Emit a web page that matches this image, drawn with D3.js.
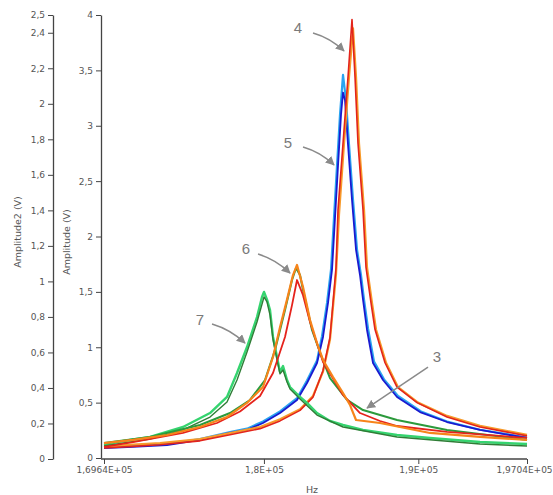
<!DOCTYPE html>
<html>
<head>
<meta charset="utf-8">
<script src="https://cdn.jsdelivr.net/npm/d3@7"></script>
<style>
  body { margin: 0; background: #fff; }
  text { font-family: "DejaVu Sans", sans-serif; }
</style>
</head>
<body>
<div id="chart"></div>
<script>
// ---- data: [Hz, V] ----
const c5Blue = [[169640,0.09],[171519,0.10],[173721,0.117],[175859,0.163],[177802,0.226],[178904,0.253],[179940,0.316],[181041,0.406],[182143,0.524],[182790,0.677],[183438,0.858],[183827,1.093],[184151,1.40],[184410,1.70],[184604,2.17],[184798,2.64],[184993,3.10],[185122,3.30],[185252,3.23],[185446,2.83],[185705,2.33],[185965,1.88],[186224,1.65],[186418,1.43],[186677,1.156],[187066,0.858],[187714,0.704],[188621,0.551],[190110,0.415],[191860,0.325],[193997,0.253],[197042,0.181]];
const c5Cyan = [[169640,0.10],[171519,0.11],[173721,0.125],[175859,0.17],[177802,0.235],[178904,0.265],[179940,0.33],[181041,0.42],[182143,0.54],[182790,0.70],[183438,0.88],[183762,1.10],[184086,1.40],[184345,1.70],[184539,2.17],[184734,2.64],[184928,3.10],[185122,3.46],[185317,3.23],[185511,2.83],[185770,2.33],[186029,1.88],[186289,1.65],[186483,1.43],[186742,1.17],[187131,0.87],[187779,0.71],[188686,0.56],[190175,0.42],[191860,0.33],[193997,0.255],[197042,0.185]];
const c4Orange = [[169640,0.10],[171519,0.12],[173268,0.135],[175859,0.17],[177802,0.225],[179746,0.28],[181041,0.35],[182337,0.44],[183179,0.56],[183827,0.78],[184280,1.07],[184669,1.66],[184863,2.20],[185187,2.84],[185511,3.44],[185770,3.88],[185965,3.44],[186159,2.84],[186483,2.24],[186677,1.72],[187001,1.40],[187260,1.16],[187908,0.86],[188686,0.64],[189980,0.50],[191860,0.38],[193997,0.29],[197042,0.21]];
const c4Red = [[169640,0.09],[171519,0.105],[173268,0.12],[175859,0.155],[177802,0.21],[179746,0.265],[181041,0.335],[182337,0.43],[183179,0.55],[183827,0.79],[184280,1.09],[184669,1.72],[184798,2.24],[185122,2.84],[185446,3.44],[185705,3.96],[185900,3.44],[186094,2.84],[186418,2.24],[186612,1.72],[186936,1.40],[187196,1.16],[187843,0.86],[188621,0.64],[189916,0.50],[191860,0.37],[193997,0.28],[197042,0.20]];
const c6Red = [[169640,0.10],[171519,0.144],[174758,0.226],[176960,0.316],[178450,0.42],[179746,0.56],[180588,0.767],[181365,1.093],[181819,1.38],[182143,1.607],[182531,1.47],[182985,1.228],[183827,0.867],[185122,0.569],[186224,0.406],[187520,0.334],[188621,0.289],[191860,0.235],[197042,0.181]];
const c3Green = [[169640,0.135],[172620,0.19],[175859,0.298],[177802,0.406],[179098,0.524],[180070,0.704],[180718,0.975],[181365,1.336],[181819,1.607],[182078,1.716],[182337,1.652],[182531,1.517],[183114,1.156],[183762,0.903],[184280,0.722],[185382,0.524],[186418,0.433],[188621,0.343],[191860,0.253],[197042,0.163]];
const c6Orange = [[169640,0.135],[171519,0.163],[173721,0.208],[175859,0.28],[177608,0.37],[178904,0.497],[179940,0.641],[180588,0.912],[181041,1.18],[181495,1.43],[181883,1.652],[182143,1.743],[182531,1.544],[182985,1.246],[183438,1.038],[183827,0.885],[184475,0.731],[185122,0.587],[185576,0.479],[185705,0.433],[185965,0.343],[187520,0.316],[190758,0.226],[193997,0.19],[197042,0.163]];
const c7Dark = [[169640,0.108],[172620,0.172],[174758,0.253],[176507,0.37],[177608,0.506],[178256,0.704],[178904,0.957],[179551,1.228],[180005,1.454],[180199,1.41],[180394,1.29],[180588,1.07],[180847,0.885],[181041,0.76],[181236,0.795],[181495,0.686],[181689,0.623],[182337,0.533],[183438,0.388],[185122,0.28],[188621,0.19],[193997,0.126],[197042,0.108]];
const c7Light = [[169640,0.117],[170482,0.144],[172620,0.19],[174758,0.28],[176507,0.406],[177608,0.551],[178256,0.767],[178904,1.002],[179551,1.273],[179875,1.454],[180005,1.499],[180199,1.43],[180394,1.336],[180588,1.093],[180847,0.912],[181041,0.777],[181236,0.83],[181495,0.704],[181689,0.641],[182337,0.551],[182790,0.497],[183438,0.406],[184280,0.334],[185122,0.298],[186418,0.253],[188621,0.208],[190758,0.181],[193997,0.144],[197042,0.126]];

const xTicks = [169640, 180000, 190000, 197040];
const xTickLabels = ["1,6964E+05", "1,8E+05", "1,9E+05", "1,9704E+05"];
const ampTicks = [0, 0.5, 1, 1.5, 2, 2.5, 3, 3.5, 4];
const amp2Ticks = [0, 0.2, 0.4, 0.6, 0.8, 1, 1.2, 1.4, 1.6, 1.8, 2, 2.2, 2.4, 2.5];

// annotations: label, arrow tip (Hz, V)
const annoText = ["4", "5", "6", "7", "3"];
const annoHz = [185187, 184539, 181689, 178774, 186677];
const annoV = [3.675, 2.646, 1.670, 1.038, 0.451];

// ---- layout ----
const width = 553, height = 495;
const axisL = 53, axisR = 101, baseY = 459;

const svg = d3.select('#chart').append('svg')
  .attr('width', width)
  .attr('height', height);

const x = d3.scaleLinear().domain([169640, 197040]).range([104, 527]);
const y = d3.scaleLinear().domain([0, 4]).range([458, 15]);
const y2 = d3.scaleLinear().domain([0, 2.5]).range([baseY, 15]);

const loc = d3.formatLocale({decimal: ",", thousands: " ", grouping: [3], currency: ["", ""]});
const fmt = loc.format("~g");

function styleAxis(g) {
  g.selectAll('.domain').attr('stroke', '#444').attr('stroke-width', 1.3);
  g.selectAll('.tick line').attr('stroke', '#444');
  g.selectAll('.tick text').attr('fill', '#555').style('font-size', '9px');
}

// left axis (Amplitude2)
svg.append('g')
  .attr('transform', `translate(${axisL},0)`)
  .call(d3.axisLeft(y2).tickValues(amp2Ticks).tickFormat(fmt).tickSize(5).tickSizeOuter(0))
  .call(styleAxis);

// right axis (Amplitude)
svg.append('g')
  .attr('transform', `translate(${axisR},0)`)
  .call(d3.axisLeft(y).tickValues(ampTicks).tickFormat(fmt).tickSize(5).tickSizeOuter(0))
  .call(styleAxis);

// x axis
const xg = svg.append('g')
  .attr('transform', `translate(0,${baseY})`)
  .call(d3.axisBottom(x).tickValues(xTicks).tickFormat((d, i) => xTickLabels[i]).tickSize(5).tickSizeOuter(0))
  .call(styleAxis);
xg.select('.domain').attr('d', `M${axisR},0H${x.range()[1]}`);
// keep the last label inside the frame
xg.selectAll('.tick text').filter((d, i) => i === xTicks.length - 1).attr('dx', -3);

// axis titles
svg.append('text')
  .attr('transform', `translate(21,232) rotate(-90)`)
  .attr('text-anchor', 'middle')
  .attr('fill', '#555')
  .style('font-size', '9.5px')
  .text('Amplitude2 (V)');
svg.append('text')
  .attr('transform', `translate(70,242) rotate(-90)`)
  .attr('text-anchor', 'middle')
  .attr('fill', '#555')
  .style('font-size', '9.5px')
  .text('Amplitude (V)');
svg.append('text')
  .attr('x', 312).attr('y', 493)
  .attr('text-anchor', 'middle')
  .attr('fill', '#555')
  .style('font-size', '9.5px')
  .text('Hz');

// traces
const line = d3.line().x(d => x(d[0])).y(d => y(d[1]));
const traces = [
  {data: c5Cyan, color: '#2aa4f0', w: 2.2},
  {data: c5Blue, color: '#1a1ad0', w: 1.8},
  {data: c4Orange, color: '#f79a2a', w: 2.2},
  {data: c4Red, color: '#e3241b', w: 1.6},
  {data: c7Light, color: '#35d46f', w: 2.4},
  {data: c7Dark, color: '#2f7d36', w: 1.4},
  {data: c3Green, color: '#2c9a3c', w: 2},
  {data: c6Red, color: '#e5231c', w: 1.8},
  {data: c6Orange, color: '#f7841a', w: 2.2}
];
svg.append('g').selectAll('path')
  .data(traces)
  .join('path')
  .attr('d', d => line(d.data))
  .attr('fill', 'none')
  .attr('stroke', d => d.color)
  .attr('stroke-width', d => d.w)
  .attr('stroke-linejoin', 'round');

// annotation arrows
svg.append('defs').append('marker')
  .attr('id', 'arr')
  .attr('viewBox', '0 0 10 10')
  .attr('refX', 9).attr('refY', 5)
  .attr('markerWidth', 6).attr('markerHeight', 6)
  .attr('orient', 'auto')
  .append('path')
  .attr('d', 'M0,0L10,5L0,10z')
  .attr('fill', '#8a8a8a');

// label offset and arrow start, relative to the tip
const offs = [
  {lx: -46, ly: -23, sx: -31, sy: -18},
  {lx: -46, ly: -22, sx: -31, sy: -18},
  {lx: -44, ly: -24, sx: -32, sy: -19},
  {lx: -45, ly: -23, sx: -33, sy: -19},
  {lx: 70, ly: -51, sx: 61, sy: -41}
];
const anno = svg.append('g');
annoText.forEach((t, i) => {
  const tx = x(annoHz[i]), ty = y(annoV[i]);
  const o = offs[i];
  const sx = tx + o.sx, sy = ty + o.sy;
  const cx = (sx + tx) / 2 + (i === 4 ? 0 : 2), cy = (sy + ty) / 2 - (i === 4 ? 0 : 4);
  anno.append('path')
    .attr('d', `M${sx},${sy}Q${cx},${cy} ${tx},${ty}`)
    .attr('fill', 'none')
    .attr('stroke', '#8a8a8a')
    .attr('stroke-width', 1.5)
    .attr('marker-end', 'url(#arr)');
  anno.append('text')
    .attr('x', tx + o.lx).attr('y', ty + o.ly)
    .attr('text-anchor', 'middle')
    .attr('dy', '0.35em')
    .attr('fill', '#7a7a7a')
    .style('font-family', '"Liberation Sans", Arial, sans-serif')
    .style('font-size', '15px')
    .text(t);
});
</script>
</body>
</html>
